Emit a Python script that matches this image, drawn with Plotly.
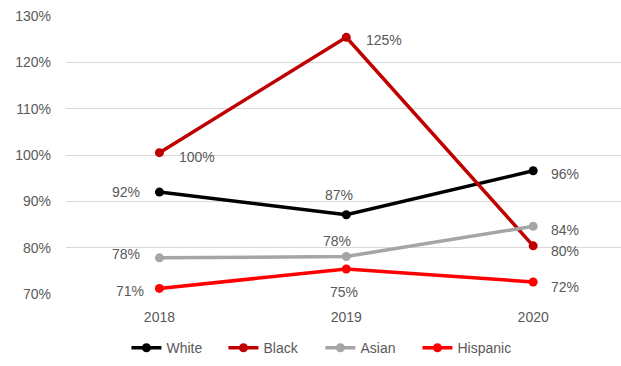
import plotly.graph_objects as go

years = ["2018", "2019", "2020"]
white = [92.0, 87.1, 96.6]
black = [100.5, 125.4, 80.4]
asian = [77.8, 78.1, 84.6]
hispanic = [71.2, 75.4, 72.6]
labels_white = ["92%", "87%", "96%"]
labels_black = ["100%", "125%", "80%"]
labels_asian = ["78%", "78%", "84%"]
labels_hispanic = ["71%", "75%", "72%"]
y_ticks = [70, 80, 90, 100, 110, 120, 130]

FONT = "Liberation Sans, Arial, sans-serif"
TXT = "#595959"

series = [
    ("White", white, labels_white, "#000000",
     [("right", -17, 0), ("center", -7, 20), ("left", 16, -3)]),
    ("Black", black, labels_black, "#C00000",
     [("left", 18, -4), ("left", 18, -3), ("left", 16, -5)]),
    ("Asian", asian, labels_asian, "#A5A5A5",
     [("right", -17, 4), ("center", -9, 15), ("left", 16, -4)]),
    ("Hispanic", hispanic, labels_hispanic, "#FF0000",
     [("right", -13, -3), ("center", -2, -23), ("left", 16, -5)]),
]

fig = go.Figure()
annotations = []
for name, vals, labs, col, pos in series:
    fig.add_trace(go.Scatter(
        x=years, y=vals, name=name, mode="lines+markers",
        line=dict(color=col, width=3.5),
        marker=dict(color=col, size=9),
    ))
    for i, (yv, lab, (anc, dx, dy)) in enumerate(zip(vals, labs, pos)):
        annotations.append(dict(
            x=i, y=yv, xref="x", yref="y", text=lab, showarrow=False,
            xanchor=anc, yanchor="middle",
            xshift=dx, yshift=dy, font=dict(family=FONT, size=14, color=TXT),
        ))

fig.update_layout(
    width=621, height=366,
    margin=dict(l=66, r=0, t=16, b=72),
    paper_bgcolor="white", plot_bgcolor="white",
    font=dict(family=FONT, size=14, color=TXT),
    annotations=annotations,
    showlegend=True,
    legend=dict(orientation="h", xref="container", x=0.516, xanchor="center",
                yref="container", y=0.005, yanchor="bottom",
                font=dict(family=FONT, size=14, color=TXT),
                entrywidth=52, entrywidthmode="pixels",
                itemwidth=30, tracegroupgap=0),
    xaxis=dict(type="category", range=[-0.5, 2.47], showgrid=False,
               showline=False, ticks="", ticklabelstandoff=13,
               tickfont=dict(size=14, color=TXT)),
    yaxis=dict(range=[70, 130], tickvals=y_ticks,
               ticktext=[f"{v}%" for v in y_ticks],
               showgrid=True, gridcolor="#D9D9D9", gridwidth=1.3,
               zeroline=False, showline=False, ticks="",
               ticklabelstandoff=14,
               tickfont=dict(size=14, color=TXT)),
)

fig.write_html("out.html")
